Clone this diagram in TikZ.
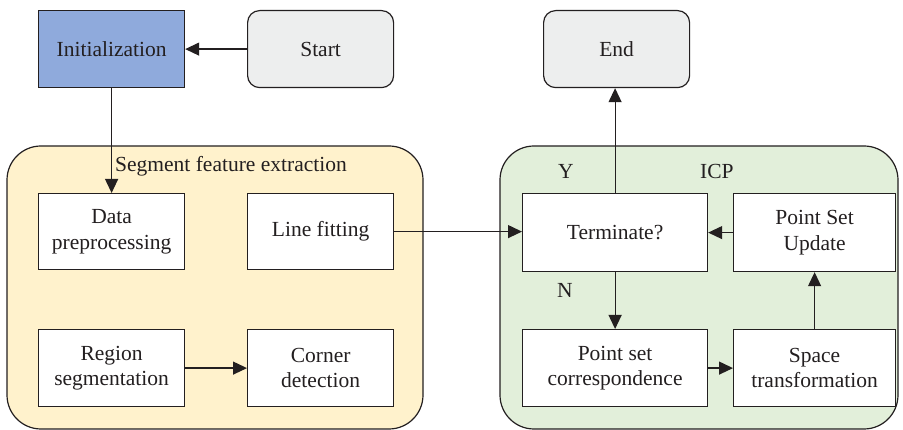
\documentclass[tikz,border=0pt]{standalone}
\usepackage{fontspec}
\setmainfont{Liberation Serif}
\usetikzlibrary{arrows.meta}
\definecolor{ink}{HTML}{231F20}
\definecolor{yel}{HTML}{FFF2CC}
\definecolor{grn}{HTML}{E2EFDA}
\definecolor{blu}{HTML}{8FAADC}
\definecolor{gry}{HTML}{EDEEEE}
\begin{document}
\begin{tikzpicture}[x=1pt,y=-1pt,
  every node/.style={font=\fontsize{21.5}{25.5}\selectfont, text=ink},
  box/.style={draw=ink, line width=1.2pt, fill=white, anchor=north west, inner sep=0pt, align=center},
  term/.style={box, fill=gry, rounded corners=12pt},
  group/.style={draw=ink, line width=1.2pt, rounded corners=34pt},
  conn/.style={draw=ink, line width=1.2pt, -{Triangle[length=14pt,width=13pt]}},
  lab/.style={anchor=base west, inner sep=0pt}]
\useasboundingbox (0,0) rectangle (903,430);
% containers
\path[group, fill=yel] (7,146) rectangle (423,429);
\path[group, fill=grn] (500,146) rectangle (898,429);
% top row
\node[box, fill=blu, minimum width=146pt, minimum height=77pt] (init) at (38,10) {Initialization};
\node[term, minimum width=146pt, minimum height=77pt] (start) at (247,10) {Start};
\node[term, minimum width=146pt, minimum height=77pt] (end) at (543,10) {End};
% segment feature extraction
\node[box, minimum width=146pt, minimum height=76pt] (data) at (38,193) {Data\\preprocessing};
\node[box, minimum width=146pt, minimum height=76pt] (line) at (247,193) {Line fitting};
\node[box, minimum width=146pt, minimum height=77pt] (region) at (38,329) {Region\\segmentation};
\node[box, minimum width=146pt, minimum height=77pt] (corner) at (247,329) {Corner\\detection};
% ICP
\node[box, minimum width=185pt, minimum height=78pt] (term) at (522,193) {Terminate?};
\node[box, minimum width=162pt, minimum height=78pt] (psu) at (733,193) {Point Set\\Update};
\node[box, minimum width=185pt, minimum height=77pt] (psc) at (522,329) {Point set\\correspondence};
\node[box, minimum width=162pt, minimum height=77pt] (space) at (733,329) {Space\\transformation};
% labels
\node[lab] (seglab) at (115,172) {Segment feature extraction};
\node[lab] (ylab) at (558,179) {Y};
\node[lab] (icplab) at (700,179) {ICP};
\node[lab] (nlab) at (557,298) {N};
% connectors
\draw[conn] (start.west) -- (init.east);
\draw[conn] (init.south) -- (data.north);
\draw[conn] (line.east) -- (term.west |- line.east);
\draw[conn] (term.north) -- (term.north |- end.south);
\draw[conn] (psu.west) -- (term.east |- psu.west);
\draw[conn] (term.south) -- (psc.north);
\draw[conn] (psc.east) -- (space.west);
\draw[conn] (space.north) -- (psu.south);
\draw[conn] (region.east) -- (corner.west);
\end{tikzpicture}
\end{document}
